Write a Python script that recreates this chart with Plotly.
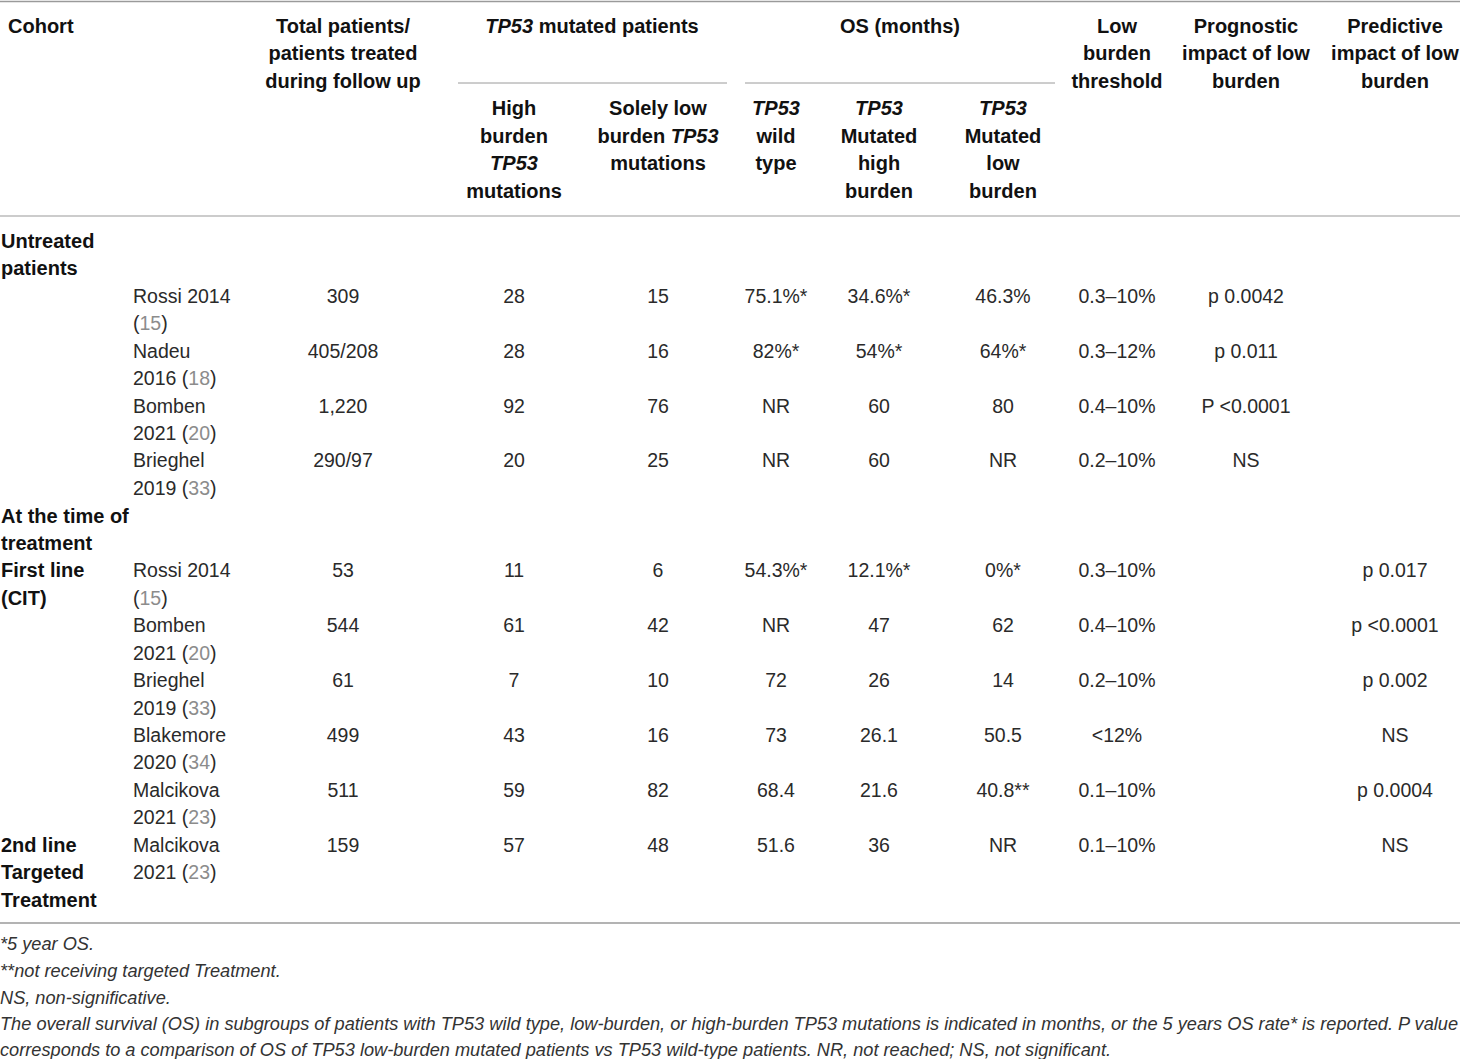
import plotly.graph_objects as go

# ── table content ────────────────────────────────────────────
GROUP_LABELS = [
    ["Untreated", "patients"],
    ["At the time of", "treatment"],
    ["First line", "(CIT)"],
    ["2nd line", "Targeted", "Treatment"],
]
GROUP_LINE = [0, 10, 12, 22]   # body line where each group label starts

STUDY_NAME = ["Rossi 2014", "Nadeu", "Bomben", "Brieghel",
              "Rossi 2014", "Bomben", "Brieghel", "Blakemore", "Malcikova",
              "Malcikova"]
STUDY_YEAR = ["", "2016", "2021", "2019",
              "", "2021", "2019", "2020", "2021",
              "2021"]
STUDY_REF = ["15", "18", "20", "33",
             "15", "20", "33", "34", "23",
             "23"]
STUDY_LINE = [2, 4, 6, 8, 12, 14, 16, 18, 20, 22]

TOTAL = ["309", "405/208", "1,220", "290/97",
         "53", "544", "61", "499", "511",
         "159"]
HIGH_BURDEN = ["28", "28", "92", "20", "11", "61", "7", "43", "59", "57"]
LOW_BURDEN = ["15", "16", "76", "25", "6", "42", "10", "16", "82", "48"]
OS_WILD = ["75.1%*", "82%*", "NR", "NR", "54.3%*", "NR", "72", "73", "68.4", "51.6"]
OS_HIGH = ["34.6%*", "54%*", "60", "60", "12.1%*", "47", "26", "26.1", "21.6", "36"]
OS_LOW = ["46.3%", "64%*", "80", "NR", "0%*", "62", "14", "50.5", "40.8**", "NR"]
THRESHOLD = ["0.3–10%", "0.3–12%", "0.4–10%", "0.2–10%",
             "0.3–10%", "0.4–10%", "0.2–10%", "<12%", "0.1–10%",
             "0.1–10%"]
PROGNOSTIC = ["p 0.0042", "p 0.011", "P <0.0001", "NS", "", "", "", "", "", ""]
PREDICTIVE = ["", "", "", "", "p 0.017", "p <0.0001", "p 0.002", "NS", "p 0.0004", "NS"]

FOOTNOTES = [
    "*5 year OS.",
    "**not receiving targeted Treatment.",
    "NS, non-significative.",
    "The overall survival (OS) in subgroups of patients with TP53 wild type, low-burden, or high-burden TP53 mutations is indicated in months, or the 5 years OS rate* is reported. P value",
    "corresponds to a comparison of OS of TP53 low-burden mutated patients vs TP53 wild-type patients. NR, not reached; NS, not significant.",
]

# header cells: (column key, lines)
TP = "<i>TP53</i>"
HEADER_TOP = [
    ("total", ["Total patients/", "patients treated", "during follow up"]),
    ("mut_span", [TP + " mutated patients"]),
    ("os_span", ["OS (months)"]),
    ("thresh", ["Low", "burden", "threshold"]),
    ("prog", ["Prognostic", "impact of low", "burden"]),
    ("pred", ["Predictive", "impact of low", "burden"]),
]
HEADER_SUB = [
    ("high", ["High", "burden", TP, "mutations"]),
    ("low", ["Solely low", "burden " + TP, "mutations"]),
    ("wild", [TP, "wild", "type"]),
    ("oshigh", [TP, "Mutated", "high", "burden"]),
    ("oslow", [TP, "Mutated", "low", "burden"]),
]

# ── layout constants (pixels) ────────────────────────────────
W, H = 1460, 1059
COL_X = {
    "cohort": 8, "group": 1, "study": 133,
    "total": 343, "high": 514, "low": 658,
    "wild": 776, "oshigh": 879, "oslow": 1003,
    "thresh": 1117, "prog": 1246, "pred": 1395,
    "mut_span": 592, "os_span": 900,
}
HEAD_Y0, BODY_Y0, LINE_H = 28, 243, 27.45
FOOT_Y = [945, 972, 999, 1025, 1051]
RULE_COLOR = "#9a9a9a"
FONT = "Liberation Sans, Arial, Helvetica, sans-serif"
FS_BODY, FS_HEAD, FS_FOOT = 19.5, 20, 18.2
REF_COLOR = "#8c8c8c"


def body_y(line):
    return BODY_Y0 + LINE_H * line


def head_y(line):
    return HEAD_Y0 + LINE_H * line


def text_trace(xs, ys, texts, pos, size=FS_BODY, color="#1a1a1a"):
    return go.Scatter(
        x=xs, y=ys, text=texts, mode="text", textposition=pos,
        textfont=dict(family=FONT, size=size, color=color),
        hoverinfo="skip", showlegend=False,
    )


fig = go.Figure()

# header
fig.add_trace(text_trace([COL_X["cohort"]], [head_y(0)], ["<b>Cohort</b>"],
                         "middle right", size=FS_HEAD, color="#111"))
hx, hy, ht = [], [], []
for key, lines in HEADER_TOP:
    for i, s in enumerate(lines):
        hx.append(COL_X[key]); hy.append(head_y(i)); ht.append("<b>" + s + "</b>")
for key, lines in HEADER_SUB:
    for i, s in enumerate(lines):
        hx.append(COL_X[key]); hy.append(head_y(3 + i)); ht.append("<b>" + s + "</b>")
fig.add_trace(text_trace(hx, hy, ht, "middle center", size=FS_HEAD, color="#111"))

# group labels
gx, gy, gt = [], [], []
for lines, start in zip(GROUP_LABELS, GROUP_LINE):
    for i, s in enumerate(lines):
        gx.append(COL_X["group"]); gy.append(body_y(start + i)); gt.append("<b>" + s + "</b>")
fig.add_trace(text_trace(gx, gy, gt, "middle right", size=FS_HEAD, color="#111"))

# study names (two lines, reference number in grey)
sx, sy, st = [], [], []
for name, year, ref, ln in zip(STUDY_NAME, STUDY_YEAR, STUDY_REF, STUDY_LINE):
    refs = f"(<span style='color:{REF_COLOR}'>{ref}</span>)"
    sx += [COL_X["study"], COL_X["study"]]
    sy += [body_y(ln), body_y(ln + 1)]
    st += [name, (year + " " + refs) if year else refs]
fig.add_trace(text_trace(sx, sy, st, "middle right", color="#2a2a2a"))

# value columns
columns = [("total", TOTAL), ("high", HIGH_BURDEN), ("low", LOW_BURDEN),
           ("wild", OS_WILD), ("oshigh", OS_HIGH), ("oslow", OS_LOW),
           ("thresh", THRESHOLD), ("prog", PROGNOSTIC), ("pred", PREDICTIVE)]
for key, vals in columns:
    fig.add_trace(text_trace([COL_X[key]] * len(vals),
                             [body_y(l) for l in STUDY_LINE],
                             vals, "middle center", color="#2a2a2a"))

# footnotes
fig.add_trace(text_trace([0] * len(FOOTNOTES), FOOT_Y,
                         ["<i>" + f + "</i>" for f in FOOTNOTES],
                         "middle right", size=FS_FOOT, color="#333"))

# rules
rules = [(0, W, 1.5, 1.6), (458, 727, 83, 1), (745, 1055, 83, 1),
         (0, W, 216, 1.2), (0, W, 923, 1.6)]
for x0, x1, y, w in rules:
    fig.add_shape(type="line", x0=x0, x1=x1, y0=y, y1=y, xref="x", yref="y",
                  line=dict(color=RULE_COLOR, width=w))

fig.update_layout(
    width=W, height=H,
    margin=dict(l=0, r=0, t=0, b=0),
    paper_bgcolor="white", plot_bgcolor="white",
)
fig.update_xaxes(range=[0, W], visible=False, fixedrange=True)
fig.update_yaxes(range=[H, 0], visible=False, fixedrange=True)

# drop the browser's default page margin so the table sits at the corner
fig.write_html("out.html", config={"displayModeBar": False},
               post_script="document.body.style.margin='0';")
